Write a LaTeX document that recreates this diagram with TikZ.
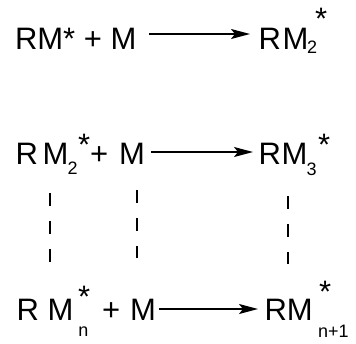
\documentclass[tikz,border=0pt]{standalone}
\usepackage{fontspec}
\setmainfont{Liberation Sans}
\usetikzlibrary{arrows.meta}

\tikzset{
  big/.style={inner sep=0pt, outer sep=0pt, anchor=base west,
              font=\fontsize{31}{31}\selectfont},
  small/.style={inner sep=0pt, outer sep=0pt, anchor=base west,
              font=\fontsize{18}{18}\selectfont},
  rx/.style={line width=1.4pt, -{Stealth[length=19pt, width=10pt, inset=4pt]}},
  chain/.style={line width=1.5pt, dash pattern=on 13pt off 15pt}
}

\begin{document}
\begin{tikzpicture}[x=1pt, y=-1pt]
  \fill[white] (0,0) rectangle (356,343);
  \path[use as bounding box] (0,0) rectangle (356,343);

  % first step: RM* + M -> RM2*
  \node[big] (l1) at (15,49) {RM* + M};
  \node[big] (p1r) at (258.5,49) {R};
  \node[big] (p1m) at (282.5,49) {M};
  \node[small] (p1s) at (307,53.5) {2};
  \node[big] (p1x) at (315,29.5) {*};
  \coordinate (a1s) at (149,34);
  \coordinate (a1e) at (250,34);
  \draw[rx] (a1s) -- (a1e);

  % second step: RM2* + M -> RM3*
  \node[big] (l2r) at (15.6,164) {R};
  \node[big] (l2m) at (42.5,164) {M};
  \node[small] (l2s) at (67.5,174.5) {2};
  \node[big] (l2x) at (78,155.5) {*};
  \node[big] (l2p) at (90,164) {+};
  \node[big] (l2n) at (119,164) {M};
  \node[big] (p2r) at (258.6,164) {R};
  \node[big] (p2m) at (281.7,164) {M};
  \node[small] (p2s) at (306.5,175) {3};
  \node[big] (p2x) at (318,155.5) {*};
  \coordinate (a2s) at (151,152);
  \coordinate (a2e) at (253,152);
  \draw[rx] (a2s) -- (a2e);

  % general step: RMn* + M -> RM(n+1)*
  \node[big] (l3r) at (16.6,320) {R};
  \node[big] (l3m) at (47.7,320) {M};
  \node[small] (l3s) at (78.3,336) {n};
  \node[big] (l3x) at (78,307.5) {*};
  \node[big] (l3p) at (102,320) {+};
  \node[big] (l3n) at (130,320) {M};
  \node[big] (p3) at (264.6,320) {RM};
  \node[big] (p3x) at (319,302.5) {*};
  \node[small] (p3s) at (318,337) {n+1};
  \coordinate (a3s) at (159,309);
  \coordinate (a3e) at (258,309);
  \draw[rx] (a3s) -- (a3e);

  % dashed links between the steps
  \coordinate (d1t) at (50,193);   \coordinate (d1b) at (50,262);
  \coordinate (d2t) at (137,190);  \coordinate (d2b) at (137,258);
  \coordinate (d3t) at (288,196);  \coordinate (d3b) at (288,264);
  \draw[chain] (d1t) -- (d1b);
  \draw[chain] (d2t) -- (d2b);
  \draw[chain] (d3t) -- (d3b);
\end{tikzpicture}
\end{document}
